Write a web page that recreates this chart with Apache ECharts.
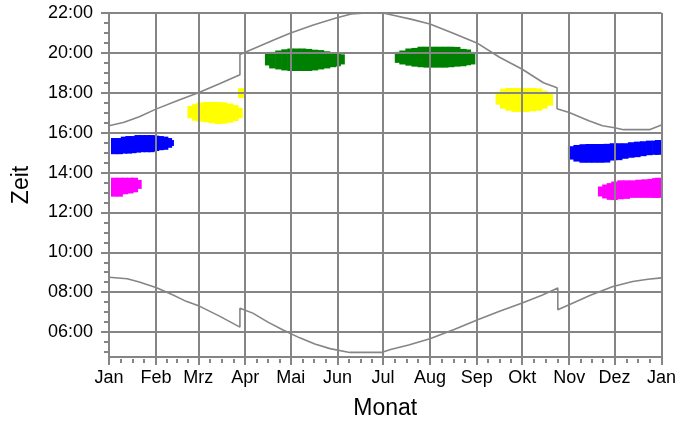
<!DOCTYPE html>
<html>
<head>
<meta charset="utf-8">
<script src="https://cdn.jsdelivr.net/npm/echarts@6/dist/echarts.min.js"></script>
<style>
html, body { margin: 0; padding: 0; background: #fff; }
#cn { width: 679px; height: 425px; }
</style>
</head>
<body>
<div id="cn"></div>
<script>
'use strict';

// x = Tag im Jahr (0..365), y = Uhrzeit in Stunden
const arrMonth = ['Jan', 'Feb', 'Mrz', 'Apr', 'Mai', 'Jun', 'Jul', 'Aug', 'Sep', 'Okt', 'Nov', 'Dez', 'Jan'];
const arrMonthStart = [0, 31, 59, 90, 120, 151, 181, 212, 243, 273, 304, 334, 365];
const arrHour = [6, 8, 10, 12, 14, 16, 18, 20, 22];

// Sonnenuntergang / Sonnenaufgang (mit Sommerzeit-Sprung)
const arrSunset = [
    [0, 16.35], [10, 16.52], [20, 16.8], [31, 17.18], [45, 17.6], [59, 18.0], [73, 18.45],
    [86.5, 18.9], [86.5, 19.92], [95, 20.2], [110, 20.68], [120, 21.0], [135, 21.4], [150, 21.75],
    [160, 21.95], [170, 22.0], [181, 22.0], [190, 21.85], [200, 21.68], [212, 21.45], [227, 21.0],
    [243, 20.5], [258, 19.78], [273, 19.18], [287, 18.5], [296, 18.25], [296, 17.2], [304, 17.01],
    [317, 16.6], [326, 16.35], [334, 16.25], [340, 16.15], [357, 16.15], [365, 16.38]
];
const arrSunrise = [
    [0, 8.75], [12, 8.67], [20, 8.51], [31, 8.24], [42, 7.87], [51, 7.54], [60, 7.29], [73, 6.8],
    [86.5, 6.25], [86.5, 7.2], [95, 6.95], [105, 6.5], [115, 6.1], [126, 5.71], [136, 5.4],
    [146, 5.17], [159, 4.98], [180, 4.98], [186, 5.13], [198, 5.35], [212, 5.66], [228, 6.13],
    [244, 6.63], [258, 7.05], [273, 7.46], [286, 7.85], [296.5, 8.21], [296.5, 7.12], [304, 7.37],
    [318, 7.85], [333, 8.29], [346, 8.54], [356, 8.65], [365, 8.72]
];

// Flecken: [Tag, von, bis]
const arrMagentaJan = [
    [3.5, 12.79, 13.74], [7, 12.79, 13.74], [10.5, 12.91, 13.74], [14, 12.95, 13.74],
    [17, 13.01, 13.74], [19.4, 13.18, 13.63]
];
const arrMagentaDez = [
    [325.2, 12.8, 13.3], [328, 12.7, 13.4], [331, 12.63, 13.47], [334, 12.62, 13.55],
    [338, 12.66, 13.61], [342, 12.68, 13.61], [346, 12.73, 13.61], [350, 12.73, 13.64],
    [354, 12.73, 13.66], [358, 12.73, 13.68], [361, 12.73, 13.72], [362.8, 12.73, 13.74]
];
const arrBlueJan = [
    [3.5, 14.92, 15.73], [7, 14.92, 15.73], [10, 14.95, 15.8], [13, 14.95, 15.83],
    [16, 14.97, 15.83], [19, 15.0, 15.88], [22, 15.02, 15.88], [25, 15.02, 15.88],
    [28, 15.02, 15.88], [31, 15.08, 15.85], [34, 15.12, 15.83], [37, 15.14, 15.8],
    [39.5, 15.24, 15.73], [40.7, 15.33, 15.63]
];
const arrBlueNov = [
    [305.4, 14.65, 15.32], [309, 14.55, 15.38], [313, 14.49, 15.42], [317, 14.49, 15.43],
    [321, 14.49, 15.43], [325, 14.49, 15.43], [329, 14.5, 15.44], [333, 14.6, 15.47],
    [337, 14.62, 15.47], [341, 14.69, 15.47], [345, 14.74, 15.52], [349, 14.77, 15.55],
    [353, 14.82, 15.57], [357, 14.87, 15.6], [361, 14.89, 15.6], [362.8, 14.89, 15.63]
];
const arrYellowMrz = [
    [54, 16.72, 17.34], [57, 16.6, 17.43], [60, 16.55, 17.51], [64, 16.52, 17.54],
    [68, 16.47, 17.54], [72, 16.43, 17.54], [76, 16.45, 17.52], [80, 16.5, 17.46],
    [83.5, 16.58, 17.38], [86.1, 16.72, 17.25], [87.4, 17.73, 18.23]
];
const arrYellowOkt = [
    [257.6, 17.4, 18.05], [260.5, 17.2, 18.2], [264, 17.1, 18.24], [268, 17.04, 18.24],
    [272, 17.03, 18.24], [276, 17.04, 18.24], [280, 17.07, 18.24], [284, 17.1, 18.22],
    [287.5, 17.2, 18.1], [291.1, 17.35, 17.95]
];
const arrGreenMai = [
    [105.2, 19.37, 19.96], [108, 19.22, 20.05], [112, 19.17, 20.12], [116, 19.12, 20.18],
    [120, 19.09, 20.22], [124, 19.09, 20.22], [128, 19.09, 20.22], [132, 19.09, 20.2],
    [136, 19.12, 20.16], [140, 19.17, 20.14], [144, 19.22, 20.08], [148, 19.28, 20.02],
    [151, 19.33, 19.98], [153.6, 19.42, 19.93]
];
const arrGreenAug = [
    [191, 19.5, 20.05], [194, 19.42, 20.12], [198, 19.36, 20.22], [202, 19.31, 20.25],
    [206, 19.28, 20.31], [210, 19.26, 20.31], [214, 19.26, 20.31], [218, 19.26, 20.31],
    [222, 19.26, 20.31], [226, 19.28, 20.31], [230, 19.31, 20.3], [234, 19.33, 20.2],
    [237, 19.38, 20.17], [239.8, 19.42, 20.05]
];

// Nebenstriche: Monat in Viertel, Stunde in halbe
const arrMinorDay = [];
for (let i = 0; i < 12; i++) {
    const len = arrMonthStart[i + 1] - arrMonthStart[i];
    for (let k = 1; k < 4; k++) arrMinorDay.push(arrMonthStart[i] + len * k / 4);
}
const arrMinorHour = [];
for (let h = 5; h < 22; h += 0.5) {
    if (arrHour.indexOf(h) < 0) arrMinorHour.push(h);
}

const GRAY = '#858585';
const FONT = 'Liberation Sans';
const HALF = 2.2;

function renderBlob(params, api) {
    const p0 = api.coord([api.value(0) - HALF, api.value(2)]);
    const p1 = api.coord([api.value(0) + HALF, api.value(1)]);
    const cs = params.coordSys;
    const shape = echarts.graphic.clipRectByRect(
        { x: p0[0], y: p0[1], width: p1[0] - p0[0], height: p1[1] - p0[1] },
        { x: cs.x, y: cs.y, width: cs.width, height: cs.height }
    );
    return shape && {
        type: 'rect',
        shape: shape,
        style: { fill: api.visual('color') }
    };
}

function blob(data, color) {
    return {
        type: 'custom',
        renderItem: renderBlob,
        data: data,
        encode: { x: 0, y: [1, 2] },
        itemStyle: { color: color },
        z: 1,
        silent: true
    };
}

function sunLine(data) {
    return {
        type: 'line',
        data: data,
        showSymbol: false,
        lineStyle: { color: GRAY, width: 1.6 },
        z: 2,
        silent: true
    };
}

const chart = echarts.init(document.getElementById('cn'));

const option = {
    animation: false,
    textStyle: { fontFamily: FONT },
    grid: { left: 109, right: 17, top: 13, bottom: 66 },
    xAxis: [
        {
            type: 'value',
            min: 0,
            max: 365,
            position: 'bottom',
            z: 3,
            name: 'Monat',
            nameLocation: 'middle',
            nameGap: 40,
            nameTextStyle: { fontSize: 23, color: '#000', fontFamily: FONT },
            axisLine: { lineStyle: { color: GRAY, width: 2 } },
            axisTick: { customValues: arrMonthStart, length: 8, lineStyle: { color: GRAY, width: 2 } },
            axisLabel: {
                customValues: arrMonthStart,
                margin: 12,
                fontSize: 18,
                color: '#000',
                fontFamily: FONT,
                formatter: v => arrMonth[arrMonthStart.indexOf(v)]
            },
            splitLine: { show: true, lineStyle: { color: GRAY, width: 2 } }
        },
        {
            type: 'value',
            min: 0,
            max: 365,
            position: 'top',
            offset: -346,
            axisLine: { show: false },
            axisLabel: { show: false },
            splitLine: { show: false },
            axisTick: { show: true, inside: true, customValues: arrMinorDay, length: 4, lineStyle: { color: GRAY, width: 2 } }
        }
    ],
    yAxis: [
        {
            type: 'value',
            min: 4.75,
            max: 22,
            position: 'left',
            z: 3,
            name: 'Zeit',
            nameLocation: 'middle',
            nameGap: 76,
            nameTextStyle: { fontSize: 23, color: '#000', fontFamily: FONT },
            axisLine: { show: true, lineStyle: { color: GRAY, width: 2 } },
            axisTick: { show: true, customValues: arrHour, length: 8, lineStyle: { color: GRAY, width: 2 } },
            axisLabel: {
                customValues: arrHour,
                margin: 16,
                fontSize: 18,
                color: '#000',
                fontFamily: FONT,
                formatter: v => (v < 10 ? '0' : '') + v + ':00'
            },
            splitLine: { show: true, lineStyle: { color: GRAY, width: 2 } }
        },
        {
            type: 'value',
            min: 4.75,
            max: 22,
            position: 'left',
            offset: 0,
            axisLine: { show: false },
            axisLabel: { show: false },
            splitLine: { show: false },
            axisTick: { show: true, customValues: arrMinorHour, length: 5, lineStyle: { color: GRAY, width: 2 } }
        }
    ],
    series: [
        blob(arrMagentaJan, '#ff00ff'),
        blob(arrMagentaDez, '#ff00ff'),
        blob(arrBlueJan, '#0000ff'),
        blob(arrBlueNov, '#0000ff'),
        blob(arrYellowMrz, '#ffff00'),
        blob(arrYellowOkt, '#ffff00'),
        blob(arrGreenMai, '#008000'),
        blob(arrGreenAug, '#008000'),
        sunLine(arrSunset),
        sunLine(arrSunrise)
    ]
};

chart.setOption(option);
</script>
</body>
</html>
